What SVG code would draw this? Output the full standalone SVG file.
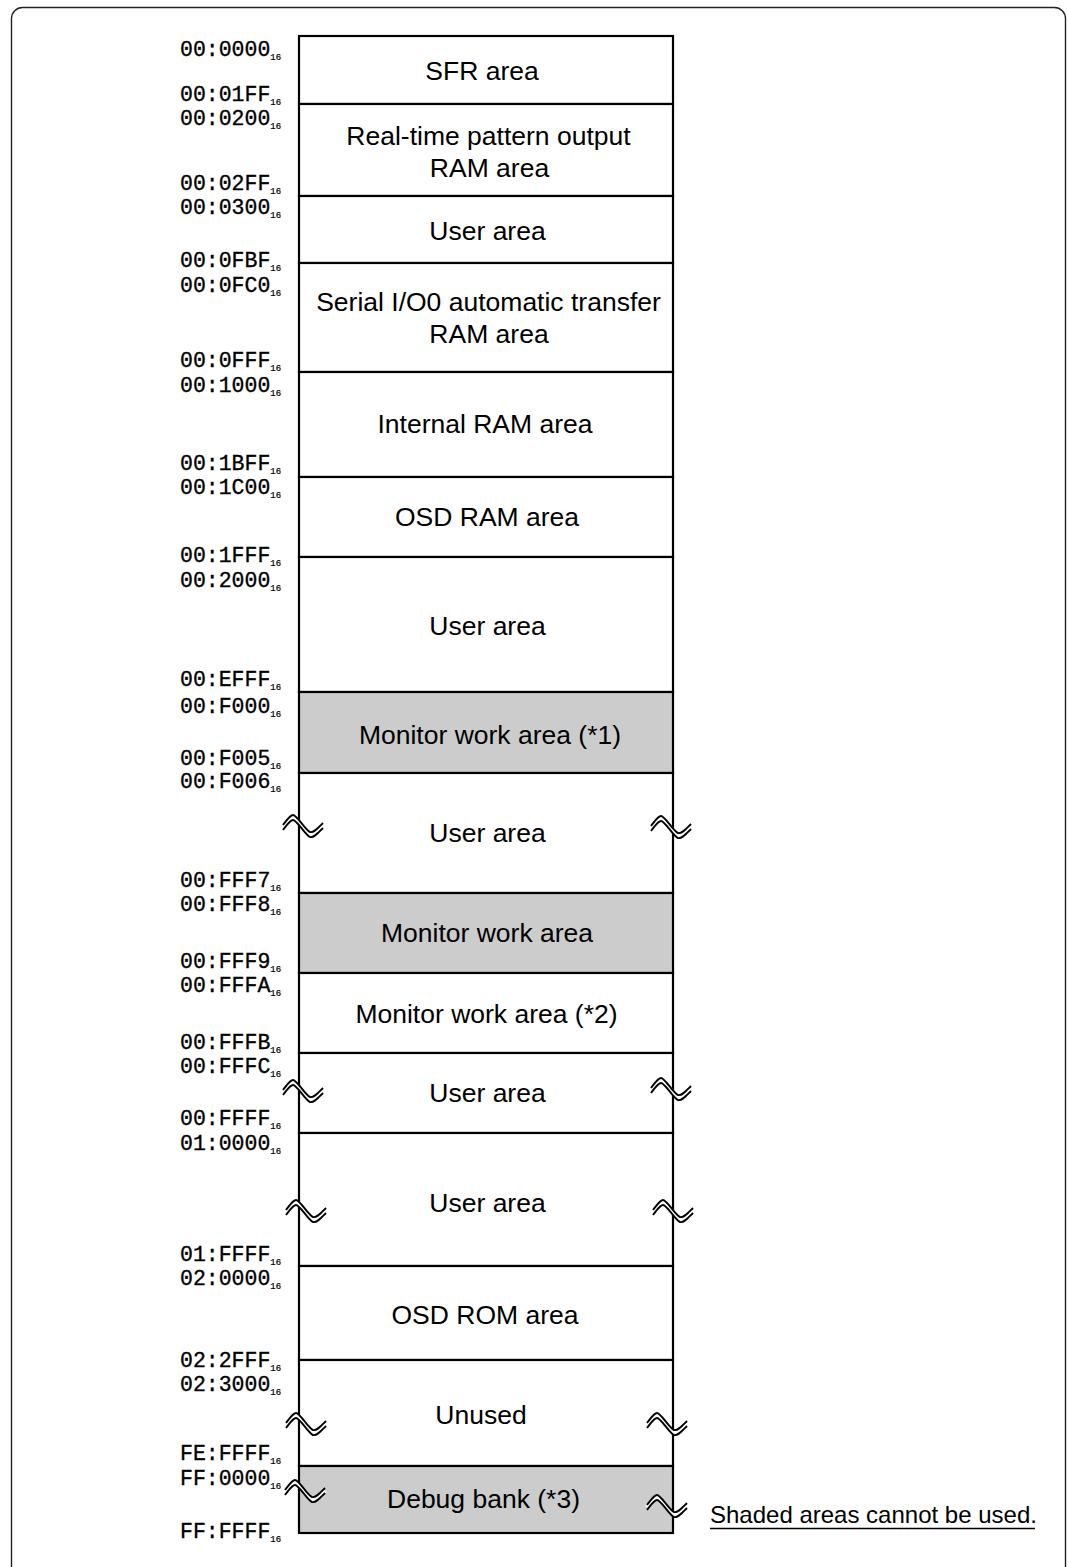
<svg xmlns="http://www.w3.org/2000/svg" width="1068" height="1567" viewBox="0 0 1068 1567">
<style>
.frame{fill:none;stroke:#222;stroke-width:1.4}
.box{fill:#fff;stroke:#000;stroke-width:2.2}
.shade{fill:#cccccc;stroke:#000;stroke-width:2.2}
.lbl{font-family:"Liberation Sans",Arial,sans-serif;font-size:26.5px;fill:#000;text-anchor:middle}
.addr{font-family:"Liberation Mono","Courier New",monospace;font-size:21.5px;fill:#000;stroke:#000;stroke-width:0.35}
.sub{font-size:9px;stroke-width:0.2}
.note{font-family:"Liberation Sans",Arial,sans-serif;font-size:24px;fill:#000}
.brkw{fill:none;stroke:#fff;stroke-width:4.5}
.brkl{fill:none;stroke:#000;stroke-width:1.9}
</style>
<defs>
<g id="brk">
<path class="brkw" d="M-20,4.5 C-16,-0.5 -13,-5.5 -10,-5.5 C-6,-5.5 2,9.5 7,11.5 C11,12.5 15,7.5 20,2.5"/>
<path class="brkl" d="M-20,2 C-16,-3 -13,-8 -10,-8 C-6,-8 2,7 7,9 C11,10 15,5 20,0"/>
<path class="brkl" d="M-20,7 C-16,2 -13,-3 -10,-3 C-6,-3 2,12 7,14 C11,15 15,10 20,5"/>
</g>
</defs>
<rect class="frame" x="11.5" y="7.5" width="1054" height="1600" rx="11"/>

<g id="sfr"><rect class="box" x="299" y="36" width="374" height="68"/><text class="lbl" x="482" y="80">SFR area</text></g>
<g id="rtp"><rect class="box" x="299" y="104" width="374" height="92"/><text class="lbl" x="488.5" y="145">Real-time pattern output</text><text class="lbl" x="489.5" y="177">RAM area</text></g>
<g id="user1"><rect class="box" x="299" y="196" width="374" height="67"/><text class="lbl" x="487.5" y="240">User area</text></g>
<g id="sio"><rect class="box" x="299" y="263" width="374" height="109"/><text class="lbl" x="488.5" y="311">Serial I/O0 automatic transfer</text><text class="lbl" x="489" y="343">RAM area</text></g>
<g id="iram"><rect class="box" x="299" y="372" width="374" height="105"/><text class="lbl" x="485" y="433">Internal RAM area</text></g>
<g id="osdram"><rect class="box" x="299" y="477" width="374" height="80"/><text class="lbl" x="487" y="526">OSD RAM area</text></g>
<g id="user2"><rect class="box" x="299" y="557" width="374" height="135"/><text class="lbl" x="487.5" y="635">User area</text></g>
<g id="mon1"><rect class="shade" x="299" y="692" width="374" height="81"/><text class="lbl" x="490" y="744">Monitor work area (*1)</text></g>
<g id="user3"><rect class="box" x="299" y="773" width="374" height="120"/><text class="lbl" x="487.5" y="842">User area</text></g>
<g id="mon"><rect class="shade" x="299" y="893" width="374" height="80"/><text class="lbl" x="487" y="942">Monitor work area</text></g>
<g id="mon2"><rect class="box" x="299" y="973" width="374" height="80"/><text class="lbl" x="486.5" y="1023">Monitor work area (*2)</text></g>
<g id="user4"><rect class="box" x="299" y="1053" width="374" height="80"/><text class="lbl" x="487.5" y="1102">User area</text></g>
<g id="user5"><rect class="box" x="299" y="1133" width="374" height="133"/><text class="lbl" x="487.5" y="1212">User area</text></g>
<g id="osdrom"><rect class="box" x="299" y="1266" width="374" height="94"/><text class="lbl" x="485" y="1324">OSD ROM area</text></g>
<g id="unused"><rect class="box" x="299" y="1360" width="374" height="106"/><text class="lbl" x="481" y="1424">Unused</text></g>
<g id="debug"><rect class="shade" x="299" y="1466" width="374" height="67"/><text class="lbl" x="483.5" y="1508">Debug bank (*3)</text></g>

<g id="breaks">
<use href="#brk" x="303" y="823"/><use href="#brk" x="671" y="824"/>
<use href="#brk" x="303" y="1088"/><use href="#brk" x="671" y="1086"/>
<use href="#brk" x="306" y="1208"/><use href="#brk" x="673" y="1208"/>
<use href="#brk" x="306" y="1421"/><use href="#brk" x="667" y="1421"/>
<use href="#brk" x="305" y="1488"/><use href="#brk" x="667" y="1503"/>
</g>

<g id="addresses">
<text class="addr" x="180" y="56">00:0000<tspan class="sub" dy="4">16</tspan></text>
<text class="addr" x="180" y="101">00:01FF<tspan class="sub" dy="4">16</tspan></text>
<text class="addr" x="180" y="125">00:0200<tspan class="sub" dy="4">16</tspan></text>
<text class="addr" x="180" y="190">00:02FF<tspan class="sub" dy="4">16</tspan></text>
<text class="addr" x="180" y="214">00:0300<tspan class="sub" dy="4">16</tspan></text>
<text class="addr" x="180" y="267">00:0FBF<tspan class="sub" dy="4">16</tspan></text>
<text class="addr" x="180" y="292">00:0FC0<tspan class="sub" dy="4">16</tspan></text>
<text class="addr" x="180" y="367">00:0FFF<tspan class="sub" dy="4">16</tspan></text>
<text class="addr" x="180" y="392">00:1000<tspan class="sub" dy="4">16</tspan></text>
<text class="addr" x="180" y="470">00:1BFF<tspan class="sub" dy="4">16</tspan></text>
<text class="addr" x="180" y="494">00:1C00<tspan class="sub" dy="4">16</tspan></text>
<text class="addr" x="180" y="562">00:1FFF<tspan class="sub" dy="4">16</tspan></text>
<text class="addr" x="180" y="587">00:2000<tspan class="sub" dy="4">16</tspan></text>
<text class="addr" x="180" y="686">00:EFFF<tspan class="sub" dy="4">16</tspan></text>
<text class="addr" x="180" y="713">00:F000<tspan class="sub" dy="4">16</tspan></text>
<text class="addr" x="180" y="765">00:F005<tspan class="sub" dy="4">16</tspan></text>
<text class="addr" x="180" y="788">00:F006<tspan class="sub" dy="4">16</tspan></text>
<text class="addr" x="180" y="887">00:FFF7<tspan class="sub" dy="4">16</tspan></text>
<text class="addr" x="180" y="911">00:FFF8<tspan class="sub" dy="4">16</tspan></text>
<text class="addr" x="180" y="968">00:FFF9<tspan class="sub" dy="4">16</tspan></text>
<text class="addr" x="180" y="992">00:FFFA<tspan class="sub" dy="4">16</tspan></text>
<text class="addr" x="180" y="1049">00:FFFB<tspan class="sub" dy="4">16</tspan></text>
<text class="addr" x="180" y="1073">00:FFFC<tspan class="sub" dy="4">16</tspan></text>
<text class="addr" x="180" y="1125">00:FFFF<tspan class="sub" dy="4">16</tspan></text>
<text class="addr" x="180" y="1150">01:0000<tspan class="sub" dy="4">16</tspan></text>
<text class="addr" x="180" y="1261">01:FFFF<tspan class="sub" dy="4">16</tspan></text>
<text class="addr" x="180" y="1285">02:0000<tspan class="sub" dy="4">16</tspan></text>
<text class="addr" x="180" y="1367">02:2FFF<tspan class="sub" dy="4">16</tspan></text>
<text class="addr" x="180" y="1391">02:3000<tspan class="sub" dy="4">16</tspan></text>
<text class="addr" x="180" y="1460">FE:FFFF<tspan class="sub" dy="4">16</tspan></text>
<text class="addr" x="180" y="1485">FF:0000<tspan class="sub" dy="4">16</tspan></text>
<text class="addr" x="180" y="1538">FF:FFFF<tspan class="sub" dy="4">16</tspan></text>
</g>

<g id="note">
<text class="note" x="710" y="1523">Shaded areas cannot be used.</text>
<line x1="710" y1="1528.5" x2="1035" y2="1528.5" stroke="#000" stroke-width="1.6"/>
</g>
</svg>
